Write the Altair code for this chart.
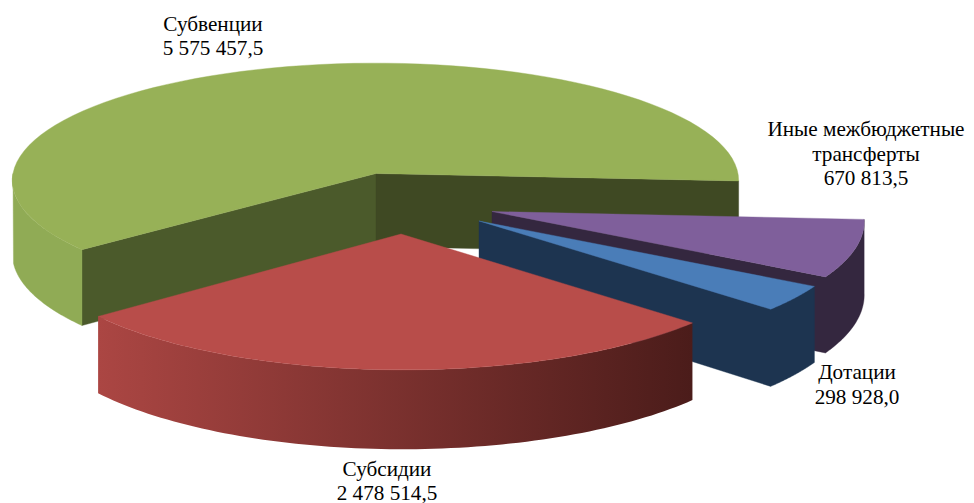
import math
import altair as alt
import pandas as pd

# ---- data (clockwise from the green slice, as stacked in the pie) ----
NAMES = ["Субвенции", "Иные межбюджетные\nтрансферты", "Дотации", "Субсидии"]
VALUES = [5575457.5, 670813.5, 298928.0, 2478514.5]
TOP_COLORS = ["#97B157", "#7F5F9B", "#4A7DB8", "#B84D4A"]

# ---- view geometry ----
W, H = 958, 500
START = 141.2
DEPTH = 73
# apex x, apex y, ring cx, rx, ry, perspective
RINGS = {
    0: (376, 173.5, 375.5, 362.5, 117, 0.06),
    1: (492, 211.5, 492, 371, 124, 0.08),
    2: (479, 221, 480, 372, 124, 0.08),
    3: (401, 234, 402.5, 371, 125, 0.08),
}
LABEL_ANCHORS = [(213, 24.5), (866, 130), (857, 373), (387, 469.5)]
LINE_STEP = 24.5

total = sum(VALUES)
spans = []
a = START
for v in VALUES:
    b = a + v / total * 360
    spans.append((a, b))
    a = b


def ring(idx, theta, lower=False):
    ax, ay, cx, rx, ry, k = RINGS[idx]
    t = math.radians(theta)
    s, c = math.sin(t), math.cos(t)
    den = 1 - k * s
    x = cx + rx * c / den
    y = ay + ry * s / den
    if lower:
        y += DEPTH / den
    return (x, y)


def apex(idx, lower=False):
    ax, ay = RINGS[idx][:2]
    return (ax, ay + (DEPTH if lower else 0))


def arc(idx, a0, a1, lower=False, n=80):
    return [ring(idx, a0 + (a1 - a0) * i / n, lower) for i in range(n + 1)]


XS = alt.Scale(domain=[8, 8 + W], nice=False, zero=False)
YS = alt.Scale(domain=[8 + H, 8], nice=False, zero=False)


def poly(points, fill, stroke=None):
    pts = list(points) + [points[0]]
    df = pd.DataFrame({"x": [p[0] for p in pts], "y": [p[1] for p in pts], "i": range(len(pts))})
    mark = alt.Chart(df).mark_line(fill=fill, stroke=stroke or fill, strokeWidth=0.4) if isinstance(fill, str) \
        else alt.Chart(df).mark_line(fill=fill, strokeWidth=0)
    return mark.encode(
        x=alt.X("x:Q", scale=XS, axis=None),
        y=alt.Y("y:Q", scale=YS, axis=None),
        order=alt.Order("i:Q"),
    )


layers = []

# green slice
g0, g1 = spans[0]
layers.append(poly([apex(0), ring(0, g0), ring(0, g0, True), apex(0, True)], "#4B5A2B"))
layers.append(poly([apex(0), ring(0, g1), ring(0, g1, True), apex(0, True)], "#3F4923"))
layers.append(poly(arc(0, g0, 180) + arc(0, 172, g0, True), "#90AB55"))
layers.append(poly([apex(0)] + arc(0, g0, g1), TOP_COLORS[0]))

# purple slice
p0n, p1n = spans[1][0] - 360, spans[1][1] - 360
layers.append(poly([apex(1)] + arc(1, p1n, p0n) + arc(1, p0n, p1n, True) + [apex(1, True)], "#34273F"))
layers.append(poly([apex(1)] + arc(1, p0n, p1n), TOP_COLORS[1]))

# blue slice
b0n, b1n = spans[2][0] - 360, spans[2][1] - 360
layers.append(poly([apex(2)] + arc(2, b1n, b0n) + arc(2, b0n, b1n, True) + [apex(2, True)], "#1D3450"))
layers.append(poly([apex(2)] + arc(2, b0n, b1n), TOP_COLORS[2]))

# red slice
r0n, r1n = spans[3][0] - 360, spans[3][1] - 360
red_side = alt.LinearGradient(
    gradient="linear",
    stops=[alt.GradientStop(offset=0, color="#AB4643"), alt.GradientStop(offset=1, color="#4B1C1A")],
    x1=0, x2=1, y1=0, y2=0,
)
layers.append(poly(arc(3, r0n, r1n) + arc(3, r1n, r0n, True), red_side))
layers.append(poly([apex(3)] + arc(3, r0n, r1n), TOP_COLORS[3]))


# labels
def fmt(v):
    return f"{v:,.1f}".replace(",", " ").replace(".", ",")


rows = []
for name, v, (lx, ly) in zip(NAMES, VALUES, LABEL_ANCHORS):
    lines = name.split("\n") + [fmt(v)]
    for j, t in enumerate(lines):
        rows.append({"x": lx, "y": ly + j * LINE_STEP, "t": t})
text = alt.Chart(pd.DataFrame(rows)).mark_text(
    font="Liberation Serif", fontSize=21.2, color="#000000", align="center", baseline="middle"
).encode(
    x=alt.X("x:Q", scale=XS, axis=None),
    y=alt.Y("y:Q", scale=YS, axis=None),
    text="t:N",
)
layers.append(text)

chart = alt.layer(*layers).properties(
    width=W, height=H, padding=0, autosize=alt.AutoSizeParams(type="none"), background="#FFFFFF"
).configure_view(stroke=None)

chart.save("out.html", embed_options={"renderer": "svg", "actions": False})
